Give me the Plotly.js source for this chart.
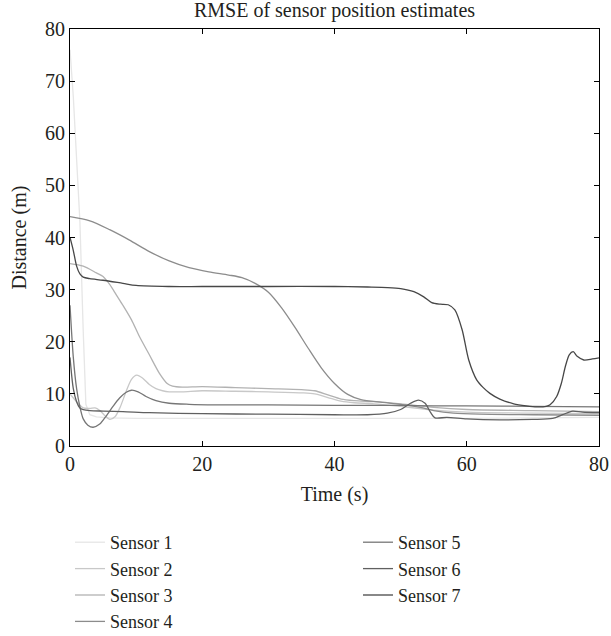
<!DOCTYPE html>
<html>
<head>
<meta charset="utf-8">
<script src="https://cdn.plot.ly/plotly-3.0.1.min.js"></script>
<style>html,body{margin:0;padding:0;background:#fff;}#chart{width:611px;height:636px;}</style>
</head>
<body>
<div id="chart"></div>
<script>
// ---- data ----
const sensorNames = ["Sensor 1","Sensor 2","Sensor 3","Sensor 4","Sensor 5","Sensor 6","Sensor 7"];

const t1 = [0, 0.5, 1, 1.5, 2, 2.4, 3, 4, 6, 10, 20, 30, 40, 50, 60, 70, 80];
const s1 = [76, 67, 55, 43, 22, 8, 6, 5.6, 5.4, 5.3, 5.3, 5.3, 5.2, 5.2, 5.3, 5.4, 5.5];

const t2 = [0, 1, 2, 3, 3.8, 4.5, 5.3, 6, 6.8, 7.6, 8.5, 9.3, 10.1, 11, 12, 13, 14, 15, 17, 20, 25, 30, 35, 37, 39, 41, 43, 46, 50, 55, 60, 70, 80];
const s2 = [10, 8.5, 7.3, 7.2, 7.3, 6.8, 5.8, 5.1, 5.6, 7.5, 10.5, 12.8, 13.6, 13.0, 11.8, 11.0, 10.6, 10.4, 10.4, 10.6, 10.5, 10.4, 10.2, 10.0, 9.3, 8.6, 8.3, 8.1, 7.6, 6.9, 6.5, 6.3, 6.2];

const t3 = [0, 2, 4, 5, 6, 7, 8, 9.3, 10.5, 12, 13.5, 14.7, 15.5, 17, 20, 25, 30, 35, 37, 39, 41, 43, 46, 50, 55, 60, 70, 80];
const s3 = [35, 34.5, 33.2, 32.5, 31, 29, 27, 24.2, 21, 17.5, 14, 12, 11.5, 11.3, 11.4, 11.2, 11.0, 10.8, 10.6, 9.8, 9.0, 8.7, 8.5, 8.1, 7.4, 7.0, 6.8, 6.6];

const t4 = [0, 3, 6, 9, 12, 15, 18, 21, 24, 26, 28, 30, 32, 34, 36, 38, 40, 42, 44, 47, 50, 53, 55, 58, 62, 70, 80];
const s4 = [44, 43.2, 41.5, 39.5, 37.3, 35.5, 34.2, 33.4, 32.8, 32.3, 31.2, 29.5, 26.5, 22.8, 18.8, 15.0, 12.0, 9.9, 8.9, 8.4, 8.0, 7.4, 6.8, 6.3, 6.1, 6.0, 5.9];

const t5 = [0, 0.5, 1, 1.5, 2, 2.7, 3.5, 4.5, 5.5, 6.5, 7.5, 8.5, 9.3, 10.3, 11.5, 13, 15, 18, 22, 30, 40, 50, 55, 60, 70, 80];
const s5 = [27, 17, 11, 7.5, 5.2, 4.0, 3.6, 4.2, 5.8, 7.6, 9.2, 10.3, 10.7, 10.4, 9.5, 8.7, 8.2, 8.0, 7.9, 7.9, 7.8, 7.8, 7.7, 7.7, 7.6, 7.5];

const t6 = [0, 0.5, 1, 1.5, 2, 3, 5, 8, 12, 20, 30, 40, 45, 48, 50, 51.5, 52.7, 53.7, 54.5, 55.2, 57, 60, 65, 70, 73, 74.5, 76, 77.5, 80];
const s6 = [17, 11, 8.5, 7.3, 7.0, 6.8, 6.7, 6.6, 6.4, 6.2, 6.1, 6.0, 6.0, 6.3, 7.0, 8.2, 8.8, 8.2, 6.5, 5.4, 5.5, 5.2, 5.0, 5.1, 5.3, 6.0, 6.7, 6.5, 6.4];

const t7 = [0, 0.5, 1, 1.5, 2, 3, 5, 8, 10, 15, 20, 30, 40, 45, 48, 50, 52, 53.5, 54.7, 56, 57.2, 58.2, 59.3, 60.3, 61.5, 62.5, 63.5, 65, 67.1, 69, 70.6, 72, 72.6, 73.6, 74.3, 74.9, 75.5, 76.1, 76.7, 77.7, 79, 80];
const s7 = [40, 37.5, 34.5, 33, 32.4, 32.1, 31.8, 31.2, 30.8, 30.6, 30.6, 30.6, 30.6, 30.5, 30.4, 30.2, 29.6, 28.6, 27.5, 27.2, 27.1, 26.1, 22.3, 16.5, 12.7, 11.2, 10.1, 9.0, 8.1, 7.7, 7.5, 7.6, 7.9, 9.5, 12, 15.2, 17.5, 18.1, 17.2, 16.5, 16.7, 16.9];

const xTicks = [0, 20, 40, 60, 80];
const yTicks = [0, 10, 20, 30, 40, 50, 60, 70, 80];

// ---- styles ----
const colors = ["#e6e6e6", "#c8c8c8", "#b2b2b2", "#8c8c8c", "#767676", "#606060", "#474747"];
const shapes = ["linear", "spline", "spline", "spline", "spline", "spline", "spline"];
const FONT = "Liberation Serif, Times New Roman, serif";
const TXT = "#231f20";

const xs = [t1, t2, t3, t4, t5, t6, t7];
const ys = [s1, s2, s3, s4, s5, s6, s7];

const traces = sensorNames.map((name, i) => ({
  type: "scatter",
  mode: "lines",
  name: name,
  x: xs[i],
  y: ys[i],
  line: {color: colors[i], width: 1.3, shape: shapes[i], smoothing: 0.8},
  legend: i < 4 ? "legend" : "legend2"
}));

const axisCommon = {
  showline: true, linecolor: "#000", linewidth: 1, mirror: "ticks",
  ticks: "inside", ticklen: 5, tickcolor: "#000", tickwidth: 1,
  showgrid: false, zeroline: false, automargin: false,
  tickfont: {family: FONT, size: 20, color: TXT}
};

const layout = {
  width: 611, height: 636,
  margin: {l: 70, r: 12, t: 29, b: 190, autoexpand: false},
  paper_bgcolor: "#fff", plot_bgcolor: "#fff",
  font: {family: FONT, size: 20, color: TXT},
  title: {text: "RMSE of sensor position estimates", x: 0.5, xref: "paper", y: 1 - 10/636, yanchor: "middle",
          automargin: false, font: {family: FONT, size: 20, color: TXT}},
  xaxis: Object.assign({}, axisCommon, {range: [0, 80], tickvals: xTicks,
          title: {text: "Time (s)", standoff: 12, font: {family: FONT, size: 20, color: TXT}}}),
  yaxis: Object.assign({}, axisCommon, {range: [0, 80], tickvals: yTicks}),
  annotations: [{
    text: "Distance (m)", textangle: -90, showarrow: false,
    xref: "paper", yref: "paper", x: -51/529, y: 0.5, xanchor: "center", yanchor: "middle",
    font: {family: FONT, size: 20, color: TXT}
  }],
  legend: {xref: "container", yref: "container", x: 70/611, y: 1 - 524/636, xanchor: "left", yanchor: "top",
           font: {family: FONT, size: 18, color: TXT}, bgcolor: "rgba(0,0,0,0)", tracegroupgap: 0},
  legend2: {xref: "container", yref: "container", x: 358/611, y: 1 - 524/636, xanchor: "left", yanchor: "top",
           font: {family: FONT, size: 18, color: TXT}, bgcolor: "rgba(0,0,0,0)", tracegroupgap: 0},
  showlegend: true
};

Plotly.newPlot("chart", traces, layout, {displayModeBar: false, staticPlot: true});
</script>
</body>
</html>
